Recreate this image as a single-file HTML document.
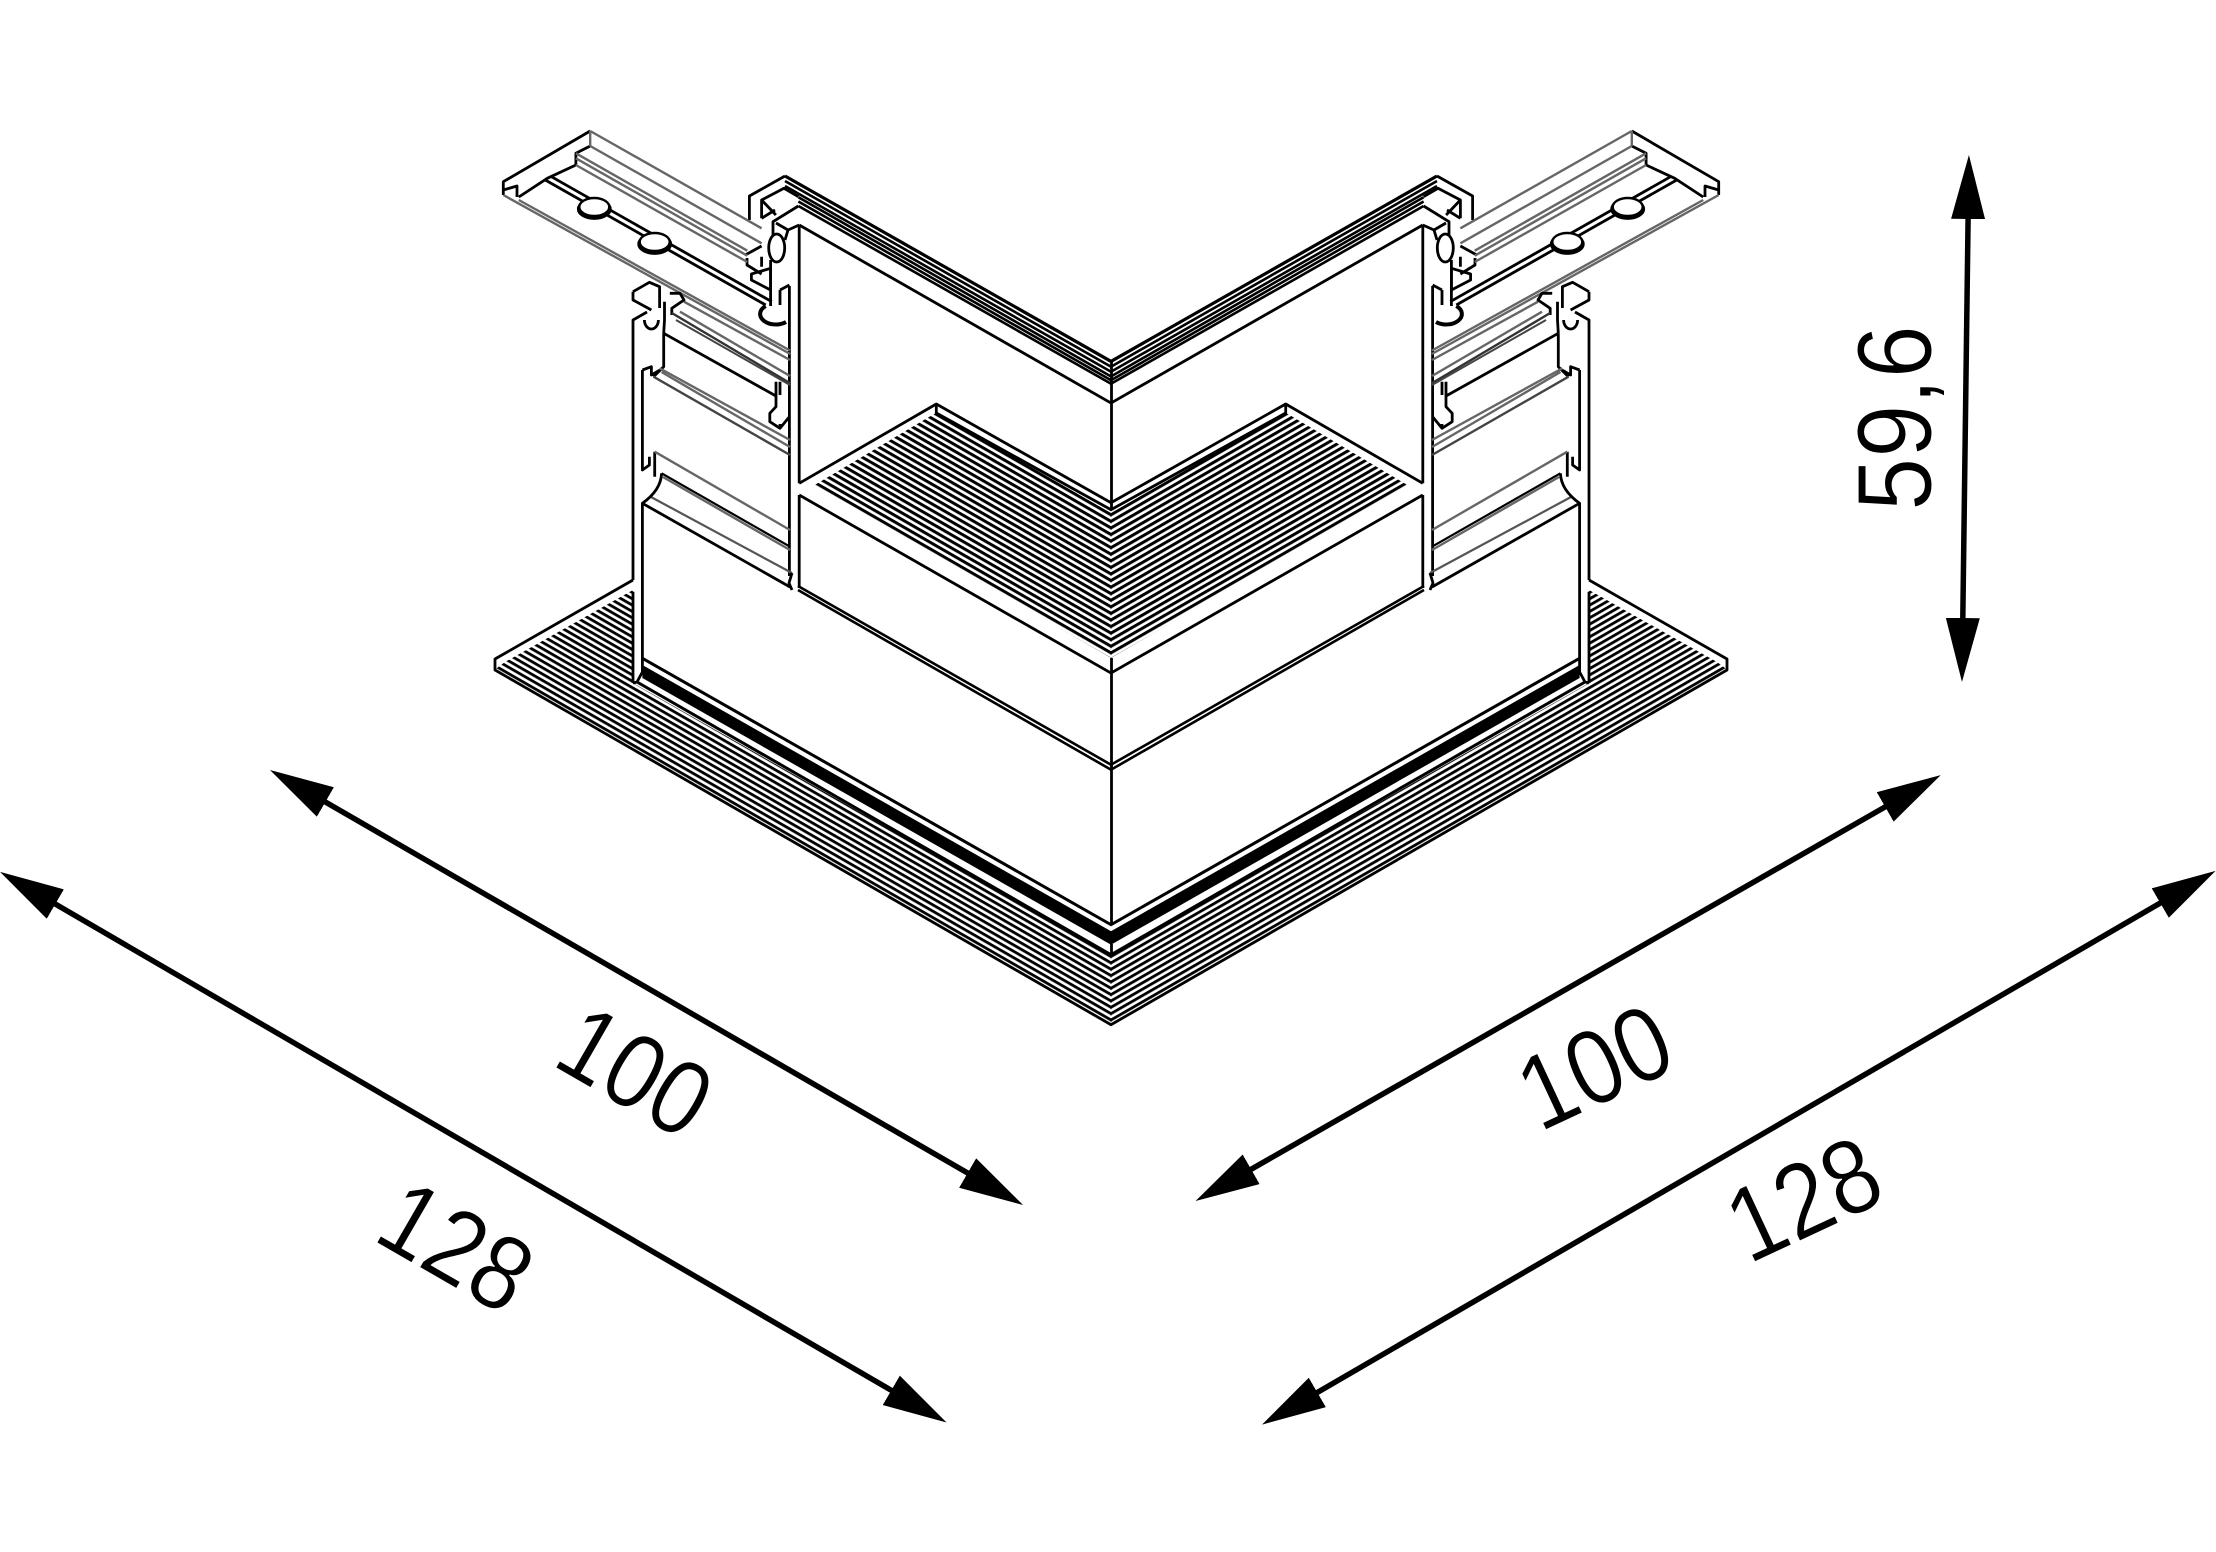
<!DOCTYPE html>
<html><head><meta charset="utf-8"><style>
html,body{margin:0;padding:0;background:#fff}
svg{display:block}
text{font-family:"Liberation Sans",sans-serif;font-size:106px;fill:#000;stroke:#fff;stroke-width:1;text-anchor:middle}
</style></head><body>
<svg width="2216" height="1552" viewBox="0 0 2216 1552" xmlns="http://www.w3.org/2000/svg">
<defs>
<pattern id="hb" patternUnits="userSpaceOnUse" width="40" height="5.5" patternTransform="translate(1111.5 1025) rotate(29.9)"><rect x="0" y="0" width="40" height="2.8" fill="#000"/></pattern>
<pattern id="ht" patternUnits="userSpaceOnUse" width="40" height="5.7" patternTransform="translate(1111.5 658) rotate(29.9)"><rect x="0" y="0" width="40" height="3" fill="#000"/></pattern>
<marker id="ah" markerUnits="userSpaceOnUse" markerWidth="64" markerHeight="34" refX="24" refY="17" orient="auto-start-reverse"><path d="M0 0L64 17L0 34Z" fill="#000"/></marker>
<g id="L" fill="none" stroke="#000" stroke-width="2.8" stroke-linejoin="round">
<!-- base -->
<path d="M497 668L505 662L633 590V683L1111.5 955V1025L494.7 670Z" fill="url(#hb)" stroke="none"/>
<path d="M633 580L495 659V670L1111.5 1025"/>
<path d="M633 591.7V683"/>
<path d="M642.4 658.3L1111.5 925" stroke-width="3"/>
<path d="M642.4 665L1111.5 931.5L1111.5 945L642.4 678Z" fill="#000" stroke="none"/>
<path d="M642.4 658V672L637 682L633 683"/>
<path d="M637 682L1111.5 955" stroke-width="3"/>
<!-- tread -->
<path d="M814.7 485L929 417L936 413L1111.5 512V658.3Z" fill="url(#ht)" stroke="none"/>
<path d="M799.2 483.3L936.3 404L1111.5 503"/>
<path d="M936.3 404V413L1111.5 510"/>
<path d="M799.2 495L1111.5 673.3"/>
<path d="M799.2 225V483.3M799.2 495V588"/>
<path d="M798 586L1111.5 765M798 590L1111.5 770" stroke-width="2.6"/>
<path d="M642.4 503.3L790 587" />
<!-- top channel -->
<path d="M785 176L1111.5 361.7" stroke-width="3.2"/>
<path d="M785 181L1111.5 367M785 186L1111.5 372M798.4 197.3L1111.5 376.7M798.4 201.5L1111.5 380.5M798.4 206L1111.5 384" stroke-width="2.6"/>
<path d="M799.2 225L1111.5 403.3"/>
<!-- cap -->
<path d="M749.4 220V196L785 176"/>
<path d="M761.6 218.3V200L784 188.3L798.4 196.7M761.6 200L775.9 215M798.4 206L773 221.7V236M761.6 218.3L775 210"/>
<path d="M776 223L788 230L799.2 225M788 230L785 240"/>
<ellipse cx="776.7" cy="248" rx="8" ry="14"/>
<path d="M770.6 260V306"/>
<path d="M789.4 286V576"/>
<path d="M745.3 255L761.6 246M747 258V265L761.6 274M761.6 256.7V266.7"/>
<path d="M751.4 274L770.6 268.3V290L751.4 280Z"/>
<path d="M780 290L789.4 285M780 290V305"/>
<!-- rail arm -->
<path d="M590.2 131L503.3 181.7V195M503.3 190L517 186V197"/>
<path d="M518.8 197L547.3 178.3L575.9 165V153.3L590.2 146"/>
<path d="M545.3 180L765.7 305M551.4 176.7L771.8 301.7"/>
<g stroke="#666" stroke-width="2.4">
<path d="M590.2 131L761.6 228.3M590.2 131V146"/>
<path d="M503.3 195L790.2 354M518.8 200L790 350.5M684 301.7L790 360"/>
<path d="M590.2 146L761.6 243.3M575.9 153.3L747.3 250.7M575.9 158.3L747.3 255.7M575.9 165L747.3 262"/>
</g>
<ellipse cx="594.3" cy="209" rx="16" ry="9.5" fill="#000"/>
<ellipse cx="594.3" cy="207" rx="15" ry="9" fill="#fff" stroke-width="2.4"/>
<ellipse cx="654.7" cy="244" rx="16" ry="9.5" fill="#000"/>
<ellipse cx="654.7" cy="242" rx="15" ry="9" fill="#fff" stroke-width="2.4"/>
<path d="M765.7 306A15 10 0 0 0 786 322" stroke-width="4"/>
<!-- column -->
<path d="M633 580V320L647 312"/>
<path d="M633 291.7L649.4 282.3L659.6 286.7V308M633 291.7V300L651.4 310"/>
<path d="M669.8 293.3H680L684 300L671.8 308.3V315M664.5 301.7V320L663.7 333.3"/>
<path d="M644.4 320A7 9 0 0 0 658.4 320"/>
<path d="M663.7 333.3L776 396M663.7 333.3V366.7L653.5 376.7"/>
<path d="M671.8 313L790.2 383.3" stroke="#333" stroke-width="2.4"/>
<path d="M676 320L790 385" stroke="#444" stroke-width="2"/>
<path d="M680 311.7L790 376" stroke="#666" stroke-width="2.4"/>
<path d="M776 381.7V406.7L769.8 413.3V421.7L780 428.3M789.4 416.7L780 428.3V424M780 381.7V395"/>
<path d="M642.4 370L651.4 366.7V375L660 370"/>
<path d="M642.4 370V470L649.4 465V456.7M654.7 451.7V476.7"/>
<g stroke="#666" stroke-width="2.4">
<path d="M659.6 368.3L790 440M661.5 372L790 447M654.7 451.7L790 530M663 477L790 550"/>
</g>
<path d="M653.5 376.7L790 455" stroke="#444" stroke-width="2.4"/>
<path d="M661.6 473.3L790 546.7" stroke-width="2.2"/>
<path d="M651 497L792 573" stroke="#555" stroke-width="2.2"/>
<path d="M661.6 473.3Q661 490 642.4 503.3V658"/>
<path d="M792 573L789 583L792 590"/>
</g>
</defs>
<rect width="2216" height="1552" fill="#fff"/>
<use href="#L"/>
<use href="#L" transform="matrix(-1 0 0 1 2222 0)"/>
<path d="M1111.5 362V510M1111.5 658V925M1111.5 944V955" fill="none" stroke="#000" stroke-width="2.8"/>
<!-- dimension lines -->
<g stroke="#000" stroke-width="5.5" fill="none">
<line x1="304.6" y1="790" x2="988.4" y2="1185" marker-start="url(#ah)" marker-end="url(#ah)"/>
<line x1="1230.3" y1="1181.2" x2="1906" y2="795" marker-start="url(#ah)" marker-end="url(#ah)"/>
<line x1="34.6" y1="892" x2="912" y2="1402.4" marker-start="url(#ah)" marker-end="url(#ah)"/>
<line x1="1296.6" y1="1404.5" x2="2181" y2="891" marker-start="url(#ah)" marker-end="url(#ah)"/>
<line x1="1968.4" y1="195" x2="1962.5" y2="642" marker-start="url(#ah)" marker-end="url(#ah)"/>
</g>
<text transform="translate(617 1103) rotate(30) scale(.88 1)">100</text>
<text transform="translate(438 1278) rotate(30) scale(.88 1)">128</text>
<text transform="translate(1610 1100) rotate(-25) scale(.88 1)">100</text>
<text transform="translate(1819 1232) rotate(-25) scale(.88 1)">128</text>
<text transform="translate(1931 418) rotate(-90) scale(.9 1)">59,6</text>
</svg>
</body></html>
